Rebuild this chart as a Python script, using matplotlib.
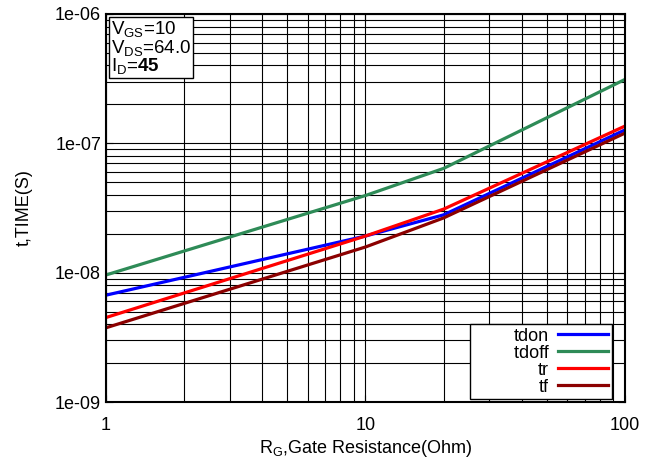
import numpy as np
import matplotlib
matplotlib.use('Agg')
import matplotlib.pyplot as plt
from matplotlib.ticker import LogLocator, FuncFormatter, NullFormatter

plt.rcParams['font.family'] = ['Liberation Sans', 'DejaVu Sans']
plt.rcParams['mathtext.fontset'] = 'custom'
plt.rcParams['mathtext.rm'] = 'Liberation Sans'
plt.rcParams['mathtext.it'] = 'Liberation Sans:italic'
plt.rcParams['mathtext.bf'] = 'Liberation Sans:bold'

# gate resistance (Ohm)
rg = [1, 10, 20, 100]
# switching times (s)
tdon = [6.7e-9, 1.92e-8, 2.8e-8, 1.27e-7]
tdoff = [9.6e-9, 3.95e-8, 6.4e-8, 3.12e-7]
tr = [4.5e-9, 1.92e-8, 3.1e-8, 1.36e-7]
tf = [3.75e-9, 1.58e-8, 2.65e-8, 1.2e-7]

series = [('tdon', tdon, '#0000ff'),
          ('tdoff', tdoff, '#2e8b57'),
          ('tr', tr, '#ff0000'),
          ('tf', tf, '#8b0000')]

fig = plt.figure(figsize=(6.55, 4.63), dpi=100)
ax = fig.add_axes([0.1618, 0.1317, 0.7924, 0.8381])

for name, vals, col in series:
    ax.plot(rg, vals, color=col, lw=2.3, label=name)

ax.set_xscale('log')
ax.set_yscale('log')
ax.set_xlim(1, 100)
ax.set_ylim(1e-9, 1e-6)

ax.xaxis.set_major_locator(LogLocator(base=10))
ax.xaxis.set_minor_locator(LogLocator(base=10, subs=np.arange(2, 10)))
ax.yaxis.set_major_locator(LogLocator(base=10))
ax.yaxis.set_minor_locator(LogLocator(base=10, subs=np.arange(2, 10)))
ax.xaxis.set_major_formatter(FuncFormatter(lambda v, p: '%g' % v))
ax.yaxis.set_major_formatter(FuncFormatter(lambda v, p: '%.0e' % v))
ax.xaxis.set_minor_formatter(NullFormatter())
ax.yaxis.set_minor_formatter(NullFormatter())
ax.xaxis.get_offset_text().set_visible(False)
ax.yaxis.get_offset_text().set_visible(False)

ax.grid(True, which='both', color='black', lw=0.8)
ax.set_axisbelow(True)
ax.tick_params(which='both', direction='in', top=True, right=True, labelsize=13)
ax.tick_params(axis='x', which='major', pad=11)
ax.tick_params(which='major', length=5)
ax.tick_params(which='minor', length=3)
for s in ax.spines.values():
    s.set_linewidth(1.5)

ax.set_xlabel(r'R$_{\rm G}$,Gate Resistance(Ohm)', fontsize=13, labelpad=3)
ax.set_ylabel('t,TIME(S)', fontsize=13, labelpad=16)

ax.text(0.01, 0.987,
        'V$_{\\rm GS}$=10\nV$_{\\rm DS}$=64.0\nI$_{\\rm D}$=$\\bf{45}$',
        transform=ax.transAxes, ha='left', va='top', fontsize=13.5,
        linespacing=0.9,
        bbox=dict(boxstyle='square,pad=0.1', fc='white', ec='black', lw=1))

# leading spaces widen the right-aligned label column like the original box
handles, labels = ax.get_legend_handles_labels()
labels[1] = '        ' + labels[1]
leg = ax.legend(handles, labels, loc='lower right', bbox_to_anchor=(0.98, 0.0),
                fontsize=13, markerfirst=False, fancybox=False, framealpha=1,
                edgecolor='black', handlelength=2.8, labelspacing=0.0,
                borderpad=0.2, handletextpad=0.5, borderaxespad=0.15)
leg.get_frame().set_linewidth(1)

fig.savefig('out.png', dpi=100)
